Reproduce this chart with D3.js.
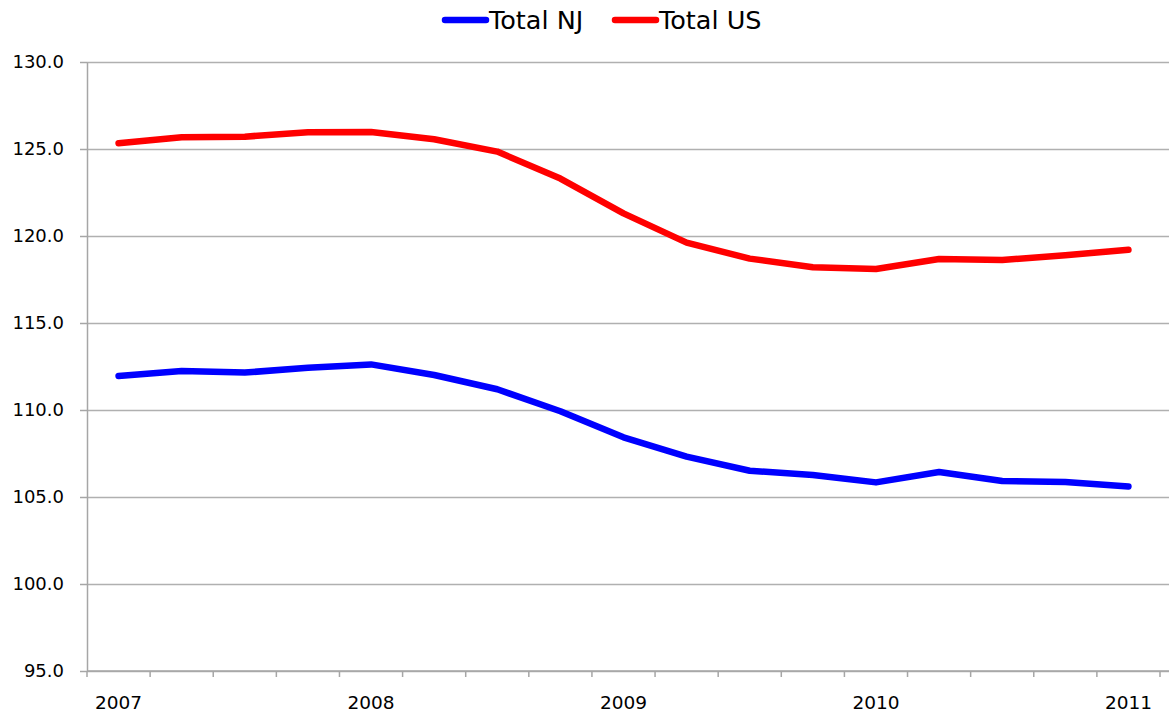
<!DOCTYPE html>
<html>
<head>
<meta charset="utf-8">
<script src="https://cdn.jsdelivr.net/npm/d3@7"></script>
<style>
    body { margin: 0; background: #fff; }
    svg { display: block; }
    svg text { font-family: "DejaVu Sans", Verdana, sans-serif; fill: #000; }
    .grid line { stroke: #b0b0b0; stroke-width: 1.5; }
    .grid path { stroke: none; }
    .axis path, .axis line { stroke: #a6a6a6; stroke-width: 1.5; }
    .line { fill: none; stroke-width: 6.5; stroke-linejoin: round; stroke-linecap: round; }
</style>
</head>
<body>
<div id="chart"></div>
<script>
// quarterly points, 2007 Q1 .. 2011 Q1
var quarters = ["2007 Q1", "2007 Q2", "2007 Q3", "2007 Q4",
                "2008 Q1", "2008 Q2", "2008 Q3", "2008 Q4",
                "2009 Q1", "2009 Q2", "2009 Q3", "2009 Q4",
                "2010 Q1", "2010 Q2", "2010 Q3", "2010 Q4",
                "2011 Q1"];
var totalNJ = [111.95, 112.24, 112.15, 112.43, 112.62, 112.01, 111.19, 109.93,
               108.43, 107.32, 106.51, 106.26, 105.84, 106.44, 105.92, 105.86, 105.6];
var totalUS = [125.33, 125.67, 125.71, 125.96, 125.98, 125.56, 124.85, 123.3,
               121.3, 119.62, 118.7, 118.2, 118.1, 118.68, 118.62, 118.89, 119.21];
var yTicks = [95, 100, 105, 110, 115, 120, 125, 130];
var yearLabels = {"2007 Q1": "2007", "2008 Q1": "2008", "2009 Q1": "2009", "2010 Q1": "2010", "2011 Q1": "2011"};

var seriesNames = ["Total NJ", "Total US"];
var seriesColors = ["#0000ff", "#ff0000"];

var W = 1170, H = 713;
var margin = {top: 62, left: 87},
    width = 1073,
    height = 609;

var svg = d3.select("#chart").append("svg")
    .attr("width", W)
    .attr("height", H);

var x = d3.scaleBand().domain(quarters).range([0, width]);
var y = d3.scaleLinear().domain([95, 130]).range([height, 0]);

var g = svg.append("g")
    .attr("transform", "translate(" + margin.left + "," + margin.top + ")");

// horizontal gridlines (run to the right edge of the picture)
g.append("g")
    .attr("class", "grid")
    .call(d3.axisLeft(y)
        .tickValues(yTicks)
        .tickSize(-(W - margin.left - 1))
        .tickFormat(""));

// y axis
var yAxis = g.append("g")
    .attr("class", "axis")
    .call(d3.axisLeft(y)
        .tickValues(yTicks)
        .tickSize(7)
        .tickSizeOuter(0)
        .tickFormat(d3.format(".1f")));
yAxis.selectAll("text")
    .attr("x", -23)
    .style("font-size", "18px");

// x axis: ticks on category boundaries, labels under each Q1
var xAxis = g.append("g")
    .attr("class", "axis")
    .attr("transform", "translate(0," + height + ")")
    .call(d3.axisBottom(x).tickSize(0).tickFormat(function (d) { return yearLabels[d] || ""; }));
xAxis.select(".domain").attr("d", "M0,0H" + (W - margin.left - 1));
xAxis.selectAll("text")
    .attr("y", 38)
    .attr("dy", 0)
    .style("font-size", "18.5px");

var bounds = quarters.map(function (q) { return x(q); }).concat([width]);
xAxis.selectAll(".bound")
    .data(bounds)
    .enter().append("line")
    .attr("class", "bound")
    .attr("x1", function (d) { return d; })
    .attr("x2", function (d) { return d; })
    .attr("y1", 0)
    .attr("y2", 6);

// lines
var line = d3.line()
    .x(function (d, i) { return x(quarters[i]) + x.bandwidth() / 2; })
    .y(function (d) { return y(d); });

[totalUS, totalNJ].forEach(function (vals, k) {
    g.append("path")
        .datum(vals)
        .attr("class", "line")
        .attr("stroke", k === 0 ? seriesColors[1] : seriesColors[0])
        .attr("d", line);
});

// legend
var legendX = [445, 615];
seriesNames.forEach(function (name, i) {
    var lg = svg.append("g").attr("transform", "translate(" + legendX[i] + ",20)");
    lg.append("line")
        .attr("x1", 0).attr("x2", 41)
        .attr("stroke", seriesColors[i])
        .attr("stroke-width", 6.5)
        .attr("stroke-linecap", "round");
    lg.append("text")
        .attr("x", 44)
        .attr("y", 8.8)
        .style("font-size", "25.5px")
        .text(name);
});
</script>
</body>
</html>
